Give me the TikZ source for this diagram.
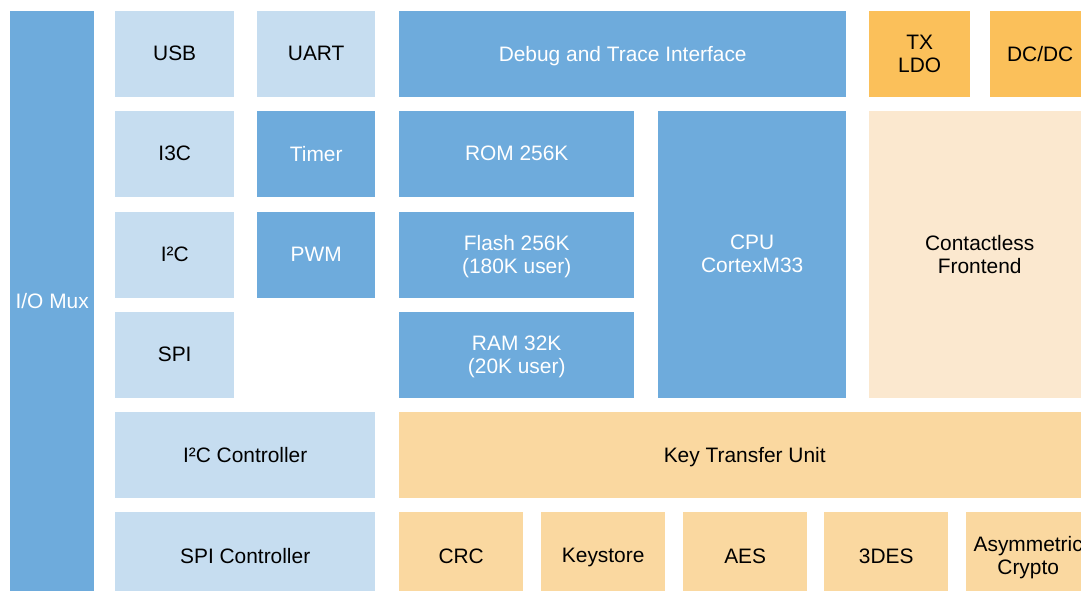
\documentclass[tikz,border=0pt]{standalone}
\usepackage{fontspec}
\setmainfont{Liberation Sans}
\usepackage{tikz}
\usetikzlibrary{positioning}
\definecolor{hwblue}{RGB}{110,171,220}
\definecolor{iolight}{RGB}{198,221,240}
\definecolor{pwrgold}{RGB}{251,192,90}
\definecolor{cryptotan}{RGB}{250,216,160}
\definecolor{rfpale}{RGB}{251,232,207}

\begin{document}
\begin{tikzpicture}[x=1pt,y=-1pt,font=\fontsize{20.9}{23}\selectfont]
\tikzset{blk/.style={anchor=north west,inner sep=0pt,align=center,minimum height=86pt,text depth=1pt},
  core/.style={blk,fill=hwblue,text=white},
  periph/.style={blk,fill=iolight},
  power/.style={blk,fill=pwrgold},
  crypto/.style={blk,fill=cryptotan}}
\clip (0,0) rectangle (1081,591);
% left column
\node[core,minimum width=84pt,minimum height=580pt] (iomux) at (10,11) {I/O Mux};
\node[periph,minimum width=119pt] (usb) at (115,11) {USB};
\node[periph,minimum width=118pt] (uart) at (257,11) {UART};
\node[periph,minimum width=119pt] (ithreec) at (115,111) {I3C};
\node[core,minimum width=118pt] (timer) at (257,111) {Timer};
\node[periph,minimum width=119pt] (itwoc) at (115,212) {I²C};
\node[core,minimum width=118pt] (pwm) at (257,212) {PWM};
\node[periph,minimum width=119pt] (spi) at (115,312) {SPI};
\node[periph,minimum width=260pt] (i2cctl) at (115,412) {I²C Controller};
\node[periph,minimum width=260pt,minimum height=88pt] (spictl) at (115,512) {SPI Controller};
% core and memories
\node[core,minimum width=447pt] (dbg) at (399,11) {Debug and Trace Interface};
\node[core,minimum width=235pt] (rom) at (399,111) {ROM 256K};
\node[core,minimum width=235pt] (flash) at (399,212) {Flash 256K\\(180K user)};
\node[core,minimum width=235pt] (ram) at (399,312) {RAM 32K\\(20K user)};
\node[core,minimum width=188pt,minimum height=287pt] (cpu) at (658,111) {CPU\\CortexM33};
% power and RF
\node[power,minimum width=101pt] (txldo) at (869,11) {TX\\LDO};
\node[power,minimum width=100pt] (dcdc) at (990,11) {DC/DC};
\node[blk,fill=rfpale,minimum width=221pt,minimum height=287pt] (frontend) at (869,111) {Contactless\\Frontend};
% crypto
\node[crypto,minimum width=691pt] (ktu) at (399,412) {Key Transfer Unit};
\node[crypto,minimum width=124pt,minimum height=88pt] (crc) at (399,512) {CRC};
\node[crypto,minimum width=124pt,minimum height=88pt] (keystore) at (541,512) {Keystore};
\node[crypto,minimum width=124pt,minimum height=88pt] (aes) at (683,512) {AES};
\node[crypto,minimum width=124pt,minimum height=88pt] (tdes) at (824,512) {3DES};
\node[crypto,minimum width=124pt,minimum height=88pt] (asym) at (966,512) {Asymmetric\\Crypto};
\end{tikzpicture}
\end{document}
